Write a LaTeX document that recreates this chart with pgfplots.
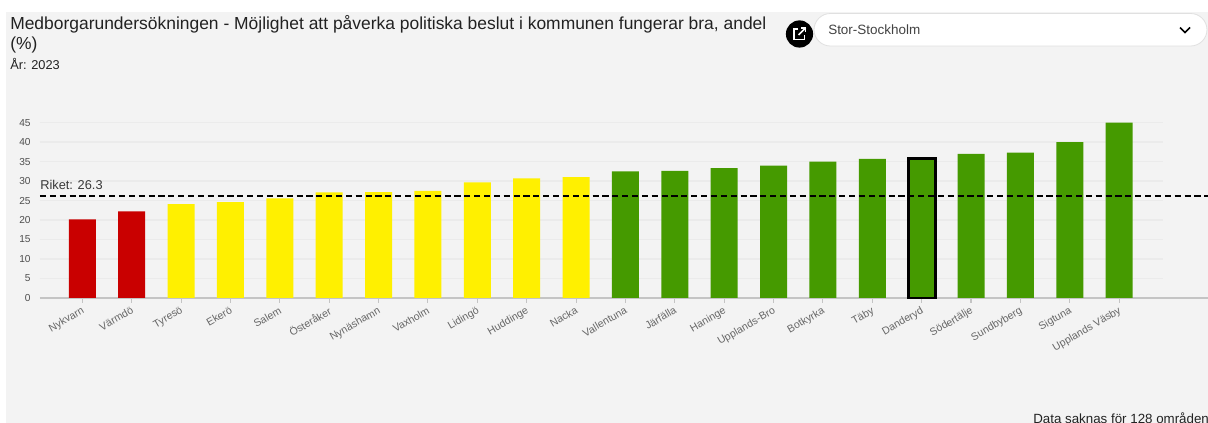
\documentclass[border=0pt]{standalone}
\usepackage{pgfplots}
\pgfplotsset{compat=1.18}
\usepackage{fontspec}
\setmainfont{Liberation Sans}
\definecolor{bgc}{HTML}{F3F3F3}
\definecolor{gridc}{HTML}{EBEBEB}
\definecolor{basec}{HTML}{C4C4C4}
\definecolor{redc}{HTML}{C90000}
\definecolor{yelc}{HTML}{FFF000}
\definecolor{grec}{HTML}{459A00}
\definecolor{labc}{HTML}{666666}
\definecolor{txtc}{HTML}{222222}
\begin{document}
\begin{tikzpicture}[x=0.75pt,y=-0.75pt]
\clip (0,0) rectangle (1208,423);
\fill[white] (0,0) rectangle (1208,423);
\fill[bgc] (6,12) rectangle (1208,423);
\begin{axis}[
  at={(30pt,-223.5pt)}, anchor=south west,
  scale only axis, width=876pt, height=131.5pt,
  xmin=-0.857, xmax=22.80, ymin=0, ymax=45,
  clip=false,
  axis line style={draw=none},
  axis x line*=bottom, axis y line*=left,
  xtick={0,...,21},
  xticklabels={Nykvarn,Värmdö,Tyresö,Ekerö,Salem,Österåker,Nynäshamn,Vaxholm,Lidingö,Huddinge,Nacka,Vallentuna,Järfälla,Haninge,Upplands-Bro,Botkyrka,Täby,Danderyd,Södertälje,Sundbyberg,Sigtuna,Upplands Väsby},
  x tick label style={rotate=30, anchor=north east, font=\fontsize{7.9pt}{9pt}\selectfont, text=labc, xshift=-1pt, yshift=-0.5pt, inner sep=1pt},
  tick align=outside,
  major tick length=3.5pt,
  x tick style={draw=basec, line width=0.8pt},
  ytick={0,5,...,45},
  y tick style={draw=none},
  y tick label style={font=\fontsize{7.6pt}{9pt}\selectfont, text=txtc!80},
  /pgf/number format/assume math mode=true,
  ybar, bar width=20.25pt, bar shift=0pt,
]
\pgfplotsinvokeforeach{5,10,...,45}{
  \addplot[sharp plot, draw=gridc, line width=1.2pt, forget plot] coordinates {(-0.857,#1) (21.89,#1)};
}
\addplot[sharp plot, draw=basec, line width=1.1pt, forget plot] coordinates {(-0.857,0) (22.8,0)};
\addplot[fill=redc, draw=none] coordinates {(0,20.2) (1,22.2)};
\addplot[fill=yelc, draw=none] coordinates {(2,24.1) (3,24.6) (4,25.6) (5,27.1) (6,27.2) (7,27.5) (8,29.7) (9,30.7) (10,31.0)};
\addplot[fill=grec, draw=none] coordinates {(11,32.5) (12,32.6) (13,33.3) (14,34.0) (15,35.0) (16,35.7) (18,37.0) (19,37.3) (20,40.0) (21,45.0)};
\addplot[fill=grec, draw=black, line width=2.2pt] coordinates {(17,35.9)};
\addplot[sharp plot, draw=black, line width=1.5pt, dash pattern=on 4.6pt off 2.8pt, forget plot] coordinates {(-0.857,26.3) (22.8,26.3)};
\end{axis}
\node[anchor=west, inner sep=0pt, text=txtc!90, font=\fontsize{9.6pt}{11pt}\selectfont] at (40,185) {Riket: 26.3};
\node[anchor=west, inner sep=0pt, text=txtc, font=\fontsize{13.08pt}{15pt}\selectfont] at (10,24) {Medborgarundersökningen - Möjlighet att påverka politiska beslut i kommunen fungerar bra, andel};
\node[anchor=west, inner sep=0pt, text=txtc, font=\fontsize{13.08pt}{15pt}\selectfont] at (10,45) {(\%)};
\node[anchor=west, inner sep=0pt, text=txtc, font=\fontsize{9.6pt}{11pt}\selectfont] at (10,64) {År: 2023};
\node[anchor=west, inner sep=0pt, text=txtc, font=\fontsize{10pt}{11pt}\selectfont] at (1033,418) {Data saknas för 128 områden};
% dropdown
\fill[white, draw=black!12, line width=0.6pt, rounded corners=12.3pt] (814,13.5) rectangle (1207,46);
\node[anchor=west, inner sep=0pt, text=txtc!85, font=\fontsize{10.1pt}{11pt}\selectfont] at (828,30) {Stor-Stockholm};
\draw[black, line width=1.2pt] (1180,27.5) -- (1185,32.5) -- (1190,27.5);
% icon
\fill[black] (799.5,34) circle (10.2pt);
\draw[white, line width=1pt] (798,29) -- (794,29) -- (794,39.5) -- (804.5,39.5) -- (804.5,35.5);
\draw[white, line width=1.1pt] (798.5,35) -- (805.5,28);
\draw[white, line width=1.1pt] (801,28) -- (805.5,28) -- (805.5,32.5);
\end{tikzpicture}
\end{document}
